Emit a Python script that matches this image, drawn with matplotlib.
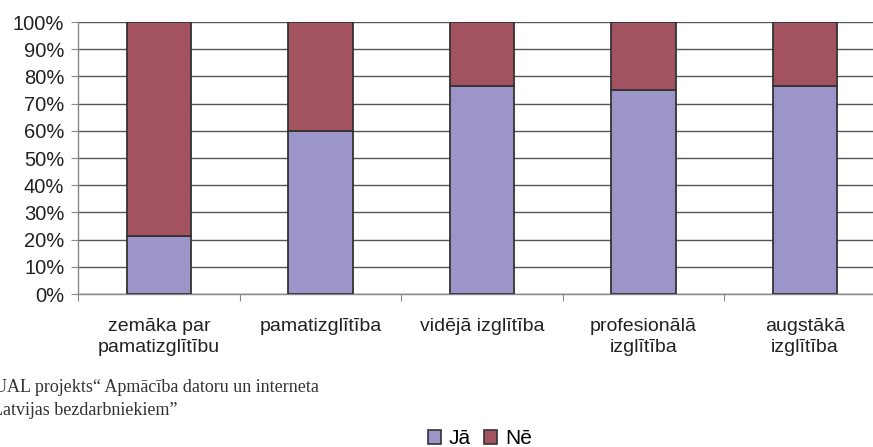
import matplotlib
matplotlib.use("Agg")
import matplotlib.pyplot as plt
from matplotlib.patches import Patch
import numpy as np

categories = ["zemāka par\npamatizglītību", "pamatizglītība", "vidējā izglītība",
              "profesionālā\nizglītība", "augstākā\nizglītība"]
ja = [21.3, 60.0, 76.5, 75.1, 76.6]
ne = [100 - v for v in ja]
series_names = ["Jā", "Nē"]
yticks = list(range(0, 101, 10))

W, H = 873, 447
fig = plt.figure(figsize=(W / 100, H / 100), dpi=100)
left, right, top, bottom = 78.25, 885.75, 22, 294
ax = fig.add_axes([left / W, 1 - bottom / H, (right - left) / W, (bottom - top) / H])

c_ja = "#9B95C9"
c_ne = "#A35260"
edge = "#333333"
font = "Liberation Sans"

x = np.arange(len(categories))
ax.bar(x, ja, width=0.4, color=c_ja, edgecolor=edge, linewidth=1.3, zorder=3)
ax.bar(x, ne, width=0.4, bottom=ja, color=c_ne, edgecolor=edge, linewidth=1.3, zorder=3)

ax.set_xlim(-0.5, len(categories) - 0.5)
ax.set_ylim(0, 100)
ax.set_yticks(yticks)
ax.set_yticklabels([f"{v}%" for v in yticks], fontsize=14.5, family=font, color="#222222")
ax.yaxis.grid(True, color="#555555", linewidth=1.0, zorder=0)

ax.set_xticks(np.arange(len(categories) + 1) - 0.5)
ax.set_xticklabels([])
ax.set_xticks(x, minor=True)
ax.set_xticklabels(categories, minor=True, fontsize=14, family=font,
                   color="#222222", linespacing=1.3)
ax.tick_params(axis="x", which="minor", length=0, pad=17)
ax.tick_params(axis="x", which="major", length=5, color="#888888")
ax.tick_params(axis="y", length=5, color="#888888", pad=5)

for s in ["top", "right"]:
    ax.spines[s].set_visible(False)
for s in ["left", "bottom"]:
    ax.spines[s].set_color("#888888")
    ax.spines[s].set_linewidth(1.0)

fig.text(-6 / W, 1 - 392 / H, "UAL projekts“ Apmācība datoru un interneta",
         family="Liberation Serif", fontsize=13, color="#333333", va="baseline")
fig.text(-8 / W, 1 - 415 / H, "Latvijas bezdarbniekiem”",
         family="Liberation Serif", fontsize=13, color="#333333", va="baseline")

handles = [Patch(facecolor=c_ja, edgecolor=edge, linewidth=1.2),
           Patch(facecolor=c_ne, edgecolor=edge, linewidth=1.2)]
fig.legend(handles, series_names, loc="center", bbox_to_anchor=(480 / W, 1 - 439 / H),
           ncol=2, frameon=False, handlelength=0.62, handleheight=0.62,
           columnspacing=0.62, handletextpad=0.4, borderpad=0,
           prop={"family": font, "size": 15})

fig.savefig("out.png", dpi=100)
